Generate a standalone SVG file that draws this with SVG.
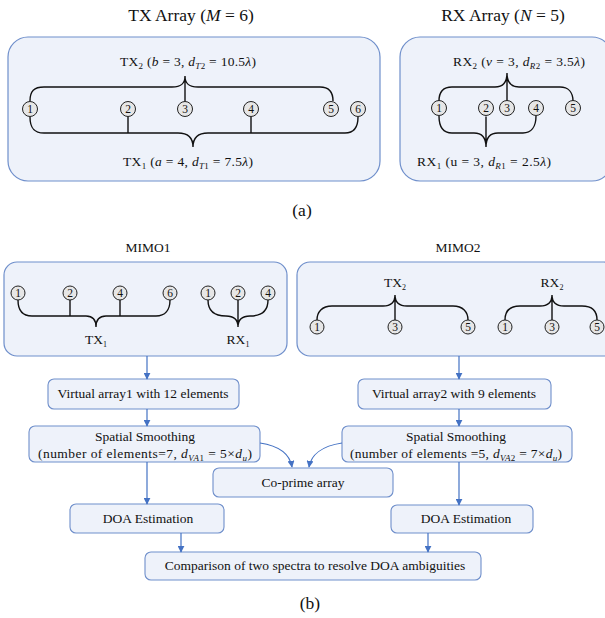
<svg xmlns="http://www.w3.org/2000/svg" width="605" height="618" viewBox="0 0 605 618" font-family="'Liberation Serif','Times New Roman',serif">
<defs>
<style>
text{font-family:"Liberation Serif","Times New Roman",serif;fill:#111}
.t{font-size:17.5px}
.l{font-size:13.5px}
.n{font-size:11.5px;text-anchor:middle}
.c{text-anchor:middle}
.i{font-style:italic}
.panel{fill:#EEF2FA;stroke:#6F8FCB;stroke-width:1.2}
.box{fill:#EEF2FA;stroke:#6F8FCB;stroke-width:1.1}
.el{fill:#E6E6E6;stroke:#222;stroke-width:1}
.br{fill:none;stroke:#111;stroke-width:1.4}
.ar{fill:none;stroke:#4472C4;stroke-width:1.2;marker-end:url(#ah)}
</style>
<marker id="ah" viewBox="0 0 10 10" refX="9" refY="5" markerWidth="7" markerHeight="7" markerUnits="userSpaceOnUse" orient="auto">
<path d="M0,0 L10,5 L0,10 z" fill="#4472C4"/>
</marker>
</defs>

<!-- (a) -->
<g id="tx-array">
<text class="t c" x="191" y="21">TX Array (<tspan class="i">M</tspan> = 6)</text>
<rect class="panel" x="8" y="37" width="372" height="144" rx="20"/>
<path class="br" d="M30,101 C30,91 34,87 44,87 L172,87 C181,87 185,84 185,76 C185,84 189,87 198,87 L320,87 C328,87 333,91 333,101 M185,76 L185,101.5"/>
<path class="br" d="M30,117 C30,128 34,133 44,133 L178,133 C187,133 193,137 193,147 C193,137 199,133 208,133 L345,133 C353,133 358,128 358,117 M128,116.5 L128,133 M251,116.5 L251,133"/>
<g><circle class="el" cx="30" cy="109" r="7.5"/><text class="n" x="30" y="113">1</text></g>
<g><circle class="el" cx="128" cy="109" r="7.5"/><text class="n" x="128" y="113">2</text></g>
<g><circle class="el" cx="185" cy="109" r="7.5"/><text class="n" x="185" y="113">3</text></g>
<g><circle class="el" cx="251" cy="109" r="7.5"/><text class="n" x="251" y="113">4</text></g>
<g><circle class="el" cx="331" cy="109" r="7.5"/><text class="n" x="331" y="113">5</text></g>
<g><circle class="el" cx="358" cy="109" r="7.5"/><text class="n" x="358" y="113">6</text></g>
<text class="l c" x="188" y="66" textLength="136" lengthAdjust="spacing">TX<tspan dy="3" font-size="9">2</tspan><tspan dy="-3"> (</tspan><tspan class="i">b</tspan> = 3, <tspan class="i">d</tspan><tspan dy="3" font-size="9" class="i">T</tspan><tspan font-size="9">2</tspan><tspan dy="-3"> = 10.5</tspan><tspan class="i">λ</tspan>)</text>
<text class="l c" x="188" y="166" textLength="130" lengthAdjust="spacing">TX<tspan dy="3" font-size="9">1</tspan><tspan dy="-3"> (</tspan><tspan class="i">a</tspan> = 4, <tspan class="i">d</tspan><tspan dy="3" font-size="9" class="i">T</tspan><tspan font-size="9">1</tspan><tspan dy="-3"> = 7.5</tspan><tspan class="i">λ</tspan>)</text>
</g>

<g id="rx-array">
<text class="t c" x="503" y="21">RX Array (<tspan class="i">N</tspan> = 5)</text>
<rect class="panel" x="400" y="37" width="212" height="144" rx="20"/>
<path class="br" d="M439,101 C439,92 443,87 452,87 L495,87 C503,87 507,83 507,73 C507,83 511,87 519,87 L560,87 C568,87 573,92 573,101 M507,73 L507,101.5"/>
<path class="br" d="M439,116 C439,127 443,133 452,133 L474,133 C482,133 486,137 486,147 C486,137 490,133 498,133 L523,133 C531,133 536,127 536,116 M486,116.5 L486,147"/>
<g><circle class="el" cx="439" cy="108" r="7.5"/><text class="n" x="439" y="112">1</text></g>
<g><circle class="el" cx="486" cy="108" r="7.5"/><text class="n" x="486" y="112">2</text></g>
<g><circle class="el" cx="507" cy="108" r="7.5"/><text class="n" x="507" y="112">3</text></g>
<g><circle class="el" cx="536" cy="108" r="7.5"/><text class="n" x="536" y="112">4</text></g>
<g><circle class="el" cx="573" cy="108" r="7.5"/><text class="n" x="573" y="112">5</text></g>
<text class="l c" x="519" y="66" textLength="132" lengthAdjust="spacing">RX<tspan dy="3" font-size="9">2</tspan><tspan dy="-3"> (</tspan><tspan class="i">v</tspan> = 3, <tspan class="i">d</tspan><tspan dy="3" font-size="9" class="i">R</tspan><tspan font-size="9">2</tspan><tspan dy="-3"> = 3.5</tspan><tspan class="i">λ</tspan>)</text>
<text class="l c" x="484" y="166" textLength="134" lengthAdjust="spacing">RX<tspan dy="3" font-size="9">1</tspan><tspan dy="-3"> (u = 3, </tspan><tspan class="i">d</tspan><tspan dy="3" font-size="9" class="i">R</tspan><tspan font-size="9">1</tspan><tspan dy="-3"> = 2.5</tspan><tspan class="i">λ</tspan>)</text>
</g>

<text class="t c" x="302" y="216">(a)</text>

<!-- (b) -->
<g id="mimo1">
<text class="l c" x="148" y="252">MIMO1</text>
<rect class="panel" x="4" y="262" width="283" height="94" rx="13"/>
<path class="br" d="M18,300 C18,310 22,316 32,316 L86,316 C92,316 96,319 96,327 C96,319 100,316 106,316 L156,316 C165,316 170,310 170,300 M70,300 L70,316 M120,300 L120,316"/>
<path class="br" d="M208,300 C208,310 214,316 226,316 C233,316 238,319 238,327 C238,319 243,316 250,316 C262,316 268,310 268,300 M238,300 L238,327"/>
<g><circle class="el" cx="18" cy="293" r="7"/><text class="n" x="18" y="297">1</text></g>
<g><circle class="el" cx="70" cy="293" r="7"/><text class="n" x="70" y="297">2</text></g>
<g><circle class="el" cx="120" cy="293" r="7"/><text class="n" x="120" y="297">4</text></g>
<g><circle class="el" cx="170" cy="293" r="7"/><text class="n" x="170" y="297">6</text></g>
<g><circle class="el" cx="208" cy="293" r="7"/><text class="n" x="208" y="297">1</text></g>
<g><circle class="el" cx="238" cy="293" r="7"/><text class="n" x="238" y="297">2</text></g>
<g><circle class="el" cx="268" cy="293" r="7"/><text class="n" x="268" y="297">4</text></g>
<text class="l c" x="96" y="344">TX<tspan dy="3" font-size="8">1</tspan></text>
<text class="l c" x="238" y="344">RX<tspan dy="3" font-size="8">1</tspan></text>
</g>

<g id="mimo2">
<text class="l c" x="458" y="252">MIMO2</text>
<rect class="panel" x="297" y="262" width="320" height="94" rx="13"/>
<path class="br" d="M317,320 C317,312 322,306 332,306 L383,306 C391,306 395,302 395,295 C395,302 399,306 407,306 L453,306 C463,306 468,312 468,320 M395,295 L395,320"/>
<path class="br" d="M505,320 C505,311 510,306 520,306 L540,306 C548,306 552,302 552,295 C552,302 556,306 564,306 L582,306 C592,306 597,311 597,320 M552,295 L552,320"/>
<g><circle class="el" cx="317" cy="327" r="7"/><text class="n" x="317" y="331">1</text></g>
<g><circle class="el" cx="395" cy="327" r="7"/><text class="n" x="395" y="331">3</text></g>
<g><circle class="el" cx="468" cy="327" r="7"/><text class="n" x="468" y="331">5</text></g>
<g><circle class="el" cx="505" cy="327" r="7"/><text class="n" x="505" y="331">1</text></g>
<g><circle class="el" cx="552" cy="327" r="7"/><text class="n" x="552" y="331">3</text></g>
<g><circle class="el" cx="597" cy="327" r="7"/><text class="n" x="597" y="331">5</text></g>
<text class="l c" x="395" y="287">TX<tspan dy="3" font-size="8">2</tspan></text>
<text class="l c" x="552" y="287">RX<tspan dy="3" font-size="8">2</tspan></text>
</g>

<g id="va1"><rect class="box" x="48" y="379" width="191" height="30" rx="6"/><text class="l c" x="143" y="398">Virtual array1 with 12 elements</text></g>
<g id="va2"><rect class="box" x="358" y="379" width="193" height="30" rx="6"/><text class="l c" x="454" y="398">Virtual array2 with 9 elements</text></g>
<g id="ss1"><rect class="box" x="29" y="426" width="231" height="36" rx="6"/><text class="l c" x="145" y="441">Spatial Smoothing</text><text class="l c" x="145" y="458" textLength="214" lengthAdjust="spacing">(number of elements=7, <tspan class="i">d</tspan><tspan dy="3" font-size="9" class="i">VA</tspan><tspan font-size="9">1</tspan><tspan dy="-3"> = 5×</tspan><tspan class="i">d</tspan><tspan dy="3" font-size="9" class="i">u</tspan><tspan dy="-3">)</tspan></text></g>
<g id="ss2"><rect class="box" x="342" y="426" width="230" height="36" rx="6"/><text class="l c" x="456" y="441">Spatial Smoothing</text><text class="l c" x="456" y="458" textLength="212" lengthAdjust="spacing">(number of elements =5, <tspan class="i">d</tspan><tspan dy="3" font-size="9" class="i">VA</tspan><tspan font-size="9">2</tspan><tspan dy="-3"> = 7×</tspan><tspan class="i">d</tspan><tspan dy="3" font-size="9" class="i">u</tspan><tspan dy="-3">)</tspan></text></g>
<g id="coprime"><rect class="box" x="213" y="468" width="180" height="29" rx="6"/><text class="l c" x="303" y="487">Co-prime array</text></g>
<g id="doa1"><rect class="box" x="70" y="504" width="154" height="29" rx="6"/><text class="l c" x="148" y="523">DOA Estimation</text></g>
<g id="doa2"><rect class="box" x="391" y="505" width="142" height="28" rx="6"/><text class="l c" x="466" y="523">DOA Estimation</text></g>
<g id="compare"><rect class="box" x="145" y="552" width="336" height="28" rx="6"/><text class="l c" x="315" y="570">Comparison of two spectra to resolve DOA ambiguities</text></g>

<g id="connectors">
<path class="ar" d="M147,356 L147,379"/>
<path class="ar" d="M459,356 L459,379"/>
<path class="ar" d="M147,409 L147,426"/>
<path class="ar" d="M459,409 L459,426"/>
<path class="ar" d="M260,443 C280,446 290,455 292,467"/>
<path class="ar" d="M342,443 C322,446 311,455 309,467"/>
<path class="ar" d="M147,462 L147,504"/>
<path class="ar" d="M459,462 L459,505"/>
<path class="ar" d="M181,533 L181,552"/>
<path class="ar" d="M428,533 L428,552"/>
</g>

<text class="t c" x="310" y="609">(b)</text>
</svg>
